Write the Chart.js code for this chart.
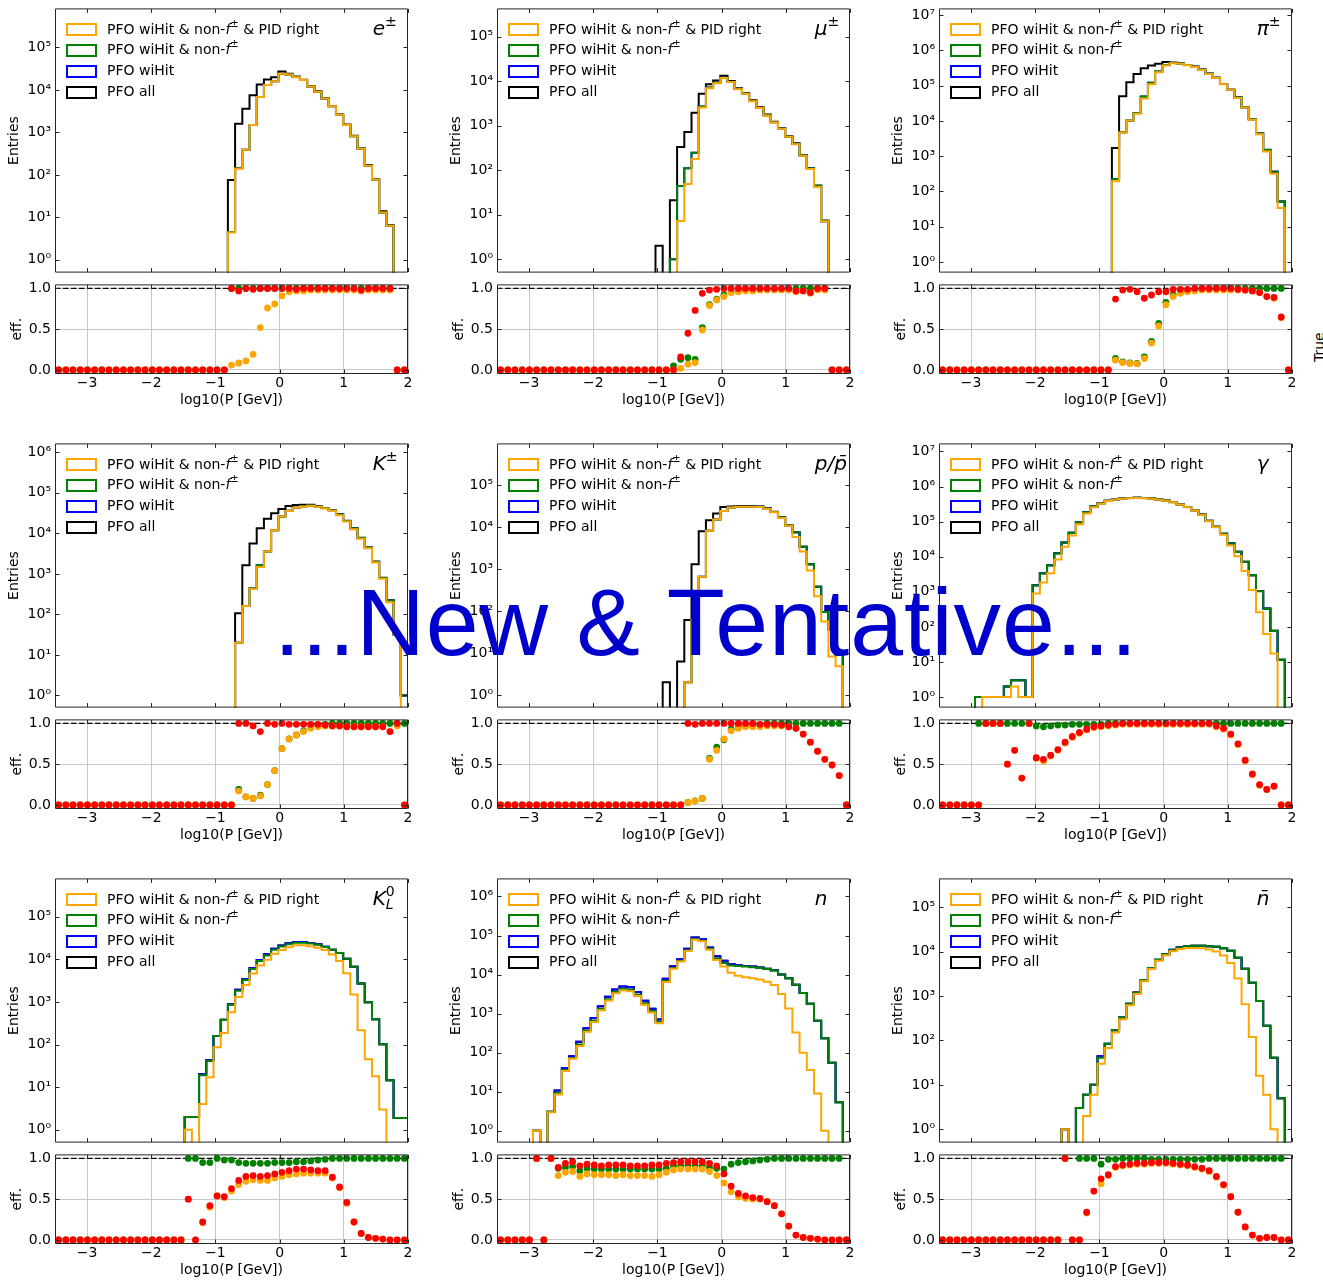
<!DOCTYPE html>
<html>
<head>
<meta charset="utf-8">
<title>PFO efficiency per particle type</title>
<script src="https://cdn.jsdelivr.net/npm/chart.js@4.4.1/dist/chart.umd.min.js"></script>
<style>
  html, body { margin: 0; padding: 0; background: #fff; }
  #page { position: relative; width: 1323px; height: 1282px; overflow: hidden; background: #fff; }
  #page canvas { position: absolute; z-index: 1; }
  #stamp { position: absolute; left: 274px; top: 575px; z-index: 5; white-space: nowrap; letter-spacing: 1px;
           font: 95px/95px "Liberation Sans", Arial, sans-serif; color: #0000cc; }
  #edgeLabel { position: absolute; left: 1311px; top: 362px; z-index: 2; white-space: nowrap;
               font: 14px "DejaVu Sans"; color: #000; transform: rotate(-90deg); transform-origin: left top; }
</style>
</head>
<body>
<div id="page">
  <div id="stamp">...New &amp; Tentative...</div>
  <div id="edgeLabel">True</div>
</div>
<script>
// binning of log10(P [GeV])
const BIN_LO = -3.5;
const BIN_HI = 2.0;
const N_BINS = 49;
const X_TICKS = [-3, -2, -1, 0, 1, 2];
const EFF_TICKS = [0, 0.5, 1];

// ---- e± ----
const eAll = [0,0,0,0,0,0,0,0,0,0, 0,0,0,0,0,0,0,0,0,0, 0,0,0,0,76,1600,3600,7500,13500,17700, 19800,27000,24000,20500,17400,12300,9300,6400,4200,2650, 1530,830,420,170,80,14,6.5,0,0];
const eHit = [0,0,0,0,0,0,0,0,0,0, 0,0,0,0,0,0,0,0,0,0, 0,0,0,0,4.5,145,390,1500,6800,13000, 16000,24000,23000,20300,17000,12000,9100,6300,4100,2600, 1500,810,420,165,78,13,6.3,0,0];
const eNonF = [0,0,0,0,0,0,0,0,0,0, 0,0,0,0,0,0,0,0,0,0, 0,0,0,0,4.5,145,390,1500,6800,13000, 16000,24000,23000,20300,17000,12000,9100,6300,4100,2600, 1500,810,420,165,78,13,6.3,0,0];
const ePid = [0,0,0,0,0,0,0,0,0,0, 0,0,0,0,0,0,0,0,0,0, 0,0,0,0,4.4,140,390,1490,6800,13000, 16000,24000,23000,20000,17000,12000,9100,6300,4100,2600, 1500,810,410,165,78,13,6.3,0,0];
const eEffRed = [0,0,0,0,0,0,0,0,0,0, 0,0,0,0,0,0,0,0,0,0, 0,0,0,0,1,0.97,1,0.99,1,1, 1,1,1,0.99,1,1,1,1,1,1, 1,1,0.98,1,1,1,1,0,0];
const eEffGreen = [0,0,0,0,0,0,0,0,0,0, 0,0,0,0,0,0,0,0,0,0, 0,0,0,0,1,1,1,1,1,1, 1,1,1,1,1,1,1,1,1,1, 1,1,1,1,1,1,1,0,0];
const eEffOrange = [0,0,0,0,0,0,0,0,0,0, 0,0,0,0,0,0,0,0,0,0, 0,0,0,0,0.06,0.085,0.11,0.19,0.52,0.76, 0.81,0.91,0.96,0.97,0.97,0.98,0.98,0.98,0.98,0.98, 0.98,0.98,0.97,0.98,0.98,0.98,0.98,0,0];

// ---- mu± ----
const muAll = [0,0,0,0,0,0,0,0,0,0, 0,0,0,0,0,0,0,0,0,0, 0,0,2,0,21,330,720,1940,5200,8500, 10300,13200,10000,6900,5400,3700,2580,1770,1230,880, 580,400,218,112,45,7.4,0,0,0];
const muHit = [0,0,0,0,0,0,0,0,0,0, 0,0,0,0,0,0,0,0,0,0, 0,0,0,0,1,44,110,245,2700,7200, 9200,11900,9600,6650,5250,3580,2500,1710,1190,860, 565,390,214,111,44,7.1,0,0,0];
const muNonF = [0,0,0,0,0,0,0,0,0,0, 0,0,0,0,0,0,0,0,0,0, 0,0,0,0,1,44,110,245,2700,7200, 9200,11900,9600,6650,5250,3580,2500,1710,1190,860, 565,390,214,111,44,7.1,0,0,0];
const muPid = [0,0,0,0,0,0,0,0,0,0, 0,0,0,0,0,0,0,0,0,0, 0,0,0,0,0,7.2,49,178,2550,6900, 8900,11800,9500,6600,5200,3550,2480,1700,1180,850, 560,380,210,106,42,7.1,0,0,0];
const muEffRed = [0,0,0,0,0,0,0,0,0,0, 0,0,0,0,0,0,0,0,0,0, 0,0,0,0,0,0.16,0.45,0.73,0.94,0.98, 0.99,1,1,1,1,1,1,1,1,1, 1,0.97,0.97,0.95,1,1,0,0,0];
const muEffGreen = [0,0,0,0,0,0,0,0,0,0, 0,0,0,0,0,0,0,0,0,0, 0,0,0,0,0.05,0.13,0.15,0.13,0.52,0.8, 0.87,0.92,0.96,0.97,0.98,0.99,0.99,0.99,0.99,0.99, 0.99,1,1,1,1,1,0,0,0];
const muEffOrange = [0,0,0,0,0,0,0,0,0,0, 0,0,0,0,0,0,0,0,0,0, 0,0,0,0,0,0.02,0.07,0.09,0.49,0.79, 0.86,0.9,0.95,0.96,0.97,0.97,0.98,0.98,0.98,0.98, 0.98,0.96,0.97,0.94,0.98,0.98,0,0,0];

// ---- pi± ----
const piAll = [0,0,0,0,0,0,0,0,0,0, 0,0,0,0,0,0,0,0,0,0, 0,0,0,0,1700,50000,125000,215000,310000,370000, 420000,470000,455000,430000,388000,347000,285000,220000,168000,112000, 77000,46000,24500,11200,4400,1520,360,52,0];
const piHit = [0,0,0,0,0,0,0,0,0,0, 0,0,0,0,0,0,0,0,0,0, 0,0,0,0,225,4800,10300,16700,49000,120000, 250000,385000,440000,425000,385000,345000,283000,218000,167000,111000, 77000,45800,24400,11100,4400,1500,360,52,0];
const piNonF = [0,0,0,0,0,0,0,0,0,0, 0,0,0,0,0,0,0,0,0,0, 0,0,0,0,225,4800,10300,16700,49000,120000, 250000,385000,440000,425000,385000,345000,283000,218000,167000,111000, 77000,45800,24400,11100,4400,1500,360,52,0];
const piPid = [0,0,0,0,0,0,0,0,0,0, 0,0,0,0,0,0,0,0,0,0, 0,0,0,0,195,4700,10200,16000,43000,110000, 240000,370000,435000,420000,380000,340000,280000,215000,165000,110000, 76000,45000,24000,10800,4200,1350,320,34,0];
const piEffRed = [0,0,0,0,0,0,0,0,0,0, 0,0,0,0,0,0,0,0,0,0, 0,0,0,0,0.87,0.98,0.99,0.96,0.88,0.92, 0.96,0.96,0.99,0.99,0.99,1,1,1,1,1, 1,0.99,0.98,0.97,0.95,0.9,0.89,0.65,0];
const piEffGreen = [0,0,0,0,0,0,0,0,0,0, 0,0,0,0,0,0,0,0,0,0, 0,0,0,0,0.14,0.1,0.085,0.08,0.16,0.35, 0.57,0.83,0.92,0.95,0.97,0.98,0.99,0.99,1,1, 1,1,1,1,1,1,1,1,0];
const piEffOrange = [0,0,0,0,0,0,0,0,0,0, 0,0,0,0,0,0,0,0,0,0, 0,0,0,0,0.12,0.09,0.08,0.075,0.14,0.33, 0.54,0.8,0.9,0.94,0.96,0.97,0.98,0.98,0.98,0.98, 0.98,0.98,0.98,0.97,0.95,0.9,0.88,0.64,0];

// ---- K± ----
const kAll = [0,0,0,0,0,0,0,0,0,0, 0,0,0,0,0,0,0,0,0,0, 0,0,0,0,0,107,1630,5600,13400,23000, 31500,40000,47000,50000,51000,51000,47000,42500,37500,29500, 20500,13400,7800,4500,2000,800,225,32,1];
const kHit = [0,0,0,0,0,0,0,0,0,0, 0,0,0,0,0,0,0,0,0,0, 0,0,0,0,0,20,160,440,1630,3550, 12000,26000,36000,43000,46500,48500,46000,42000,37000,29000, 20200,13200,7700,4450,1980,790,222,32,1];
const kNonF = [0,0,0,0,0,0,0,0,0,0, 0,0,0,0,0,0,0,0,0,0, 0,0,0,0,0,20,160,440,1630,3550, 12000,26000,36000,43000,46500,48500,46000,42000,37000,29000, 20200,13200,7700,4450,1980,790,222,32,1];
const kPid = [0,0,0,0,0,0,0,0,0,0, 0,0,0,0,0,0,0,0,0,0, 0,0,0,0,0,20,160,427,1470,3550, 11900,26000,35600,42600,46000,48000,45500,41200,35900,28000, 19500,12700,7400,4300,1900,760,200,32,0];
const kEffRed = [0,0,0,0,0,0,0,0,0,0, 0,0,0,0,0,0,0,0,0,0, 0,0,0,0,0,1,1,0.97,0.9,1, 0.99,1,0.99,0.99,0.99,0.99,0.99,0.98,0.97,0.97, 0.96,0.96,0.96,0.96,0.96,0.96,0.9,1,0];
const kEffGreen = [0,0,0,0,0,0,0,0,0,0, 0,0,0,0,0,0,0,0,0,0, 0,0,0,0,0,0.19,0.1,0.08,0.12,0.25, 0.42,0.69,0.81,0.86,0.91,0.95,0.98,0.99,1,1, 1,1,1,1,1,1,1,1,1];
const kEffOrange = [0,0,0,0,0,0,0,0,0,0, 0,0,0,0,0,0,0,0,0,0, 0,0,0,0,0,0.17,0.1,0.08,0.11,0.25, 0.42,0.69,0.81,0.86,0.9,0.94,0.96,0.97,0.97,0.97, 0.96,0.96,0.96,0.96,0.96,0.96,0.9,0.97,0];

// ---- p / pbar ----
const pAll = [0,0,0,0,0,0,0,0,0,0, 0,0,0,0,0,0,0,0,0,0, 0,0,0,2,0,6.3,61,1300,7900,14400, 21000,30000,31000,31500,31500,31500,31000,28000,23000,17000, 11000,7500,3400,1300,380,95,36,8.9,0];
const pHit = [0,0,0,0,0,0,0,0,0,0, 0,0,0,0,0,0,0,0,0,0, 0,0,0,0,0,0,2,63,650,8200, 15000,24000,29000,30500,30500,30500,30200,27200,22700,16900, 11000,7500,3400,1300,380,95,36,8.9,0];
const pNonF = [0,0,0,0,0,0,0,0,0,0, 0,0,0,0,0,0,0,0,0,0, 0,0,0,0,0,0,2,63,650,8200, 15000,24000,29000,30500,30500,30500,30200,27200,22700,16900, 11000,7500,3400,1300,380,95,36,8.9,0];
const pPid = [0,0,0,0,0,0,0,0,0,0, 0,0,0,0,0,0,0,0,0,0, 0,0,0,0,0,0,2,63,650,8200, 15000,24000,29000,30500,30500,30500,30000,27000,22500,16500, 10700,5800,2600,920,225,56,8.2,4.8,0];
const pEffRed = [0,0,0,0,0,0,0,0,0,0, 0,0,0,0,0,0,0,0,0,0, 0,0,0,0,0,0,1,0.99,1,1, 1,1,1,1,1,1,0.99,0.99,0.99,0.98, 0.96,0.94,0.87,0.77,0.66,0.56,0.49,0.36,0];
const pEffGreen = [0,0,0,0,0,0,0,0,0,0, 0,0,0,0,0,0,0,0,0,0, 0,0,0,0,0,0,0.03,0.05,0.08,0.57, 0.71,0.8,0.93,0.96,0.97,0.97,0.98,1,1,1, 1,1,1,1,1,1,1,1,0];
const pEffOrange = [0,0,0,0,0,0,0,0,0,0, 0,0,0,0,0,0,0,0,0,0, 0,0,0,0,0,0,0.03,0.05,0.08,0.56, 0.67,0.81,0.91,0.94,0.96,0.96,0.96,0.97,0.97,0.97, 0.96,0.94,0.87,0.77,0.66,0.56,0.49,0.36,0];

// ---- gamma ----
const gAll = [0,0,0,0,0,1,1,1,1,2, 3,3,1,1530,3400,5750,12500,25400,48500,95000, 187000,272000,337000,397000,432000,457000,472000,480000,474000,457000, 432000,402000,362000,312000,262000,212000,162000,106000,71500,45300, 24200,13800,7150,2970,1050,333,77,11.6,0];
const gHit = [0,0,0,0,0,1,1,1,1,2, 3,3,1,1530,3400,5750,12500,25400,48500,95000, 187000,272000,337000,397000,432000,457000,472000,480000,474000,457000, 432000,402000,362000,312000,262000,212000,162000,106000,71500,45300, 24200,13800,7150,2970,1050,333,77,11.6,0];
const gNonF = [0,0,0,0,0,1,1,1,1,2, 3,3,1,1500,3300,5600,12300,25000,48000,94000, 185000,270000,335000,395000,430000,455000,470000,478000,472000,455000, 430000,400000,360000,310000,260000,210000,160000,105000,71000,45000, 24000,13700,7100,2950,1040,330,76,11.5,0];
const gPid = [0,0,0,0,0,0,1,1,1,1, 2,1,1,890,1850,3400,8400,19200,40300,83700, 172000,259000,325000,387000,426000,450000,466000,474000,468000,451000, 426000,396000,356000,306000,257000,207000,157000,102000,68900,42300, 20900,10300,3900,1120,260,63,17.5,0,0];
const gEffRed = [0,0,0,0,0,0,1,1,1,0.5, 0.67,0.33,1,0.58,0.56,0.61,0.68,0.77,0.84,0.89, 0.93,0.96,0.97,0.98,0.99,1,1,1,1,1, 1,1,1,1,1,1,1,1,0.97,0.94, 0.87,0.75,0.55,0.38,0.25,0.19,0.23,0,0];
const gEffGreen = [0,0,0,0,0,1,1,1,1,1, 1,1,1,0.97,0.96,0.97,0.98,0.98,0.99,0.99, 0.99,0.99,0.99,1,1,1,1,1,1,1, 1,1,1,1,1,1,1,1,1,1, 1,1,1,1,1,1,1,1,0];
const gEffOrange = [0,0,0,0,0,0,1,1,1,0.5, 0.67,0.33,1,0.57,0.54,0.6,0.67,0.76,0.83,0.88, 0.92,0.95,0.96,0.97,0.98,0.99,0.99,0.99,0.99,0.99, 0.99,0.99,0.99,0.99,0.99,0.99,0.99,0.99,0.96,0.93, 0.86,0.74,0.54,0.37,0.24,0.19,0.23,0,0];

// ---- K0_L ----
const klAll = [0,0,0,0,0,0,0,0,0,0, 0,0,0,0,0,0,0,0,2,2, 20,43,158,383,877,1930,3460,6280,9680,13100, 17600,21000,23700,25500,25500,24200,22500,19700,16700,14000, 10300,6700,2700,980,390,102,14.5,1.9,1.9];
const klHit = [0,0,0,0,0,0,0,0,0,0, 0,0,0,0,0,0,0,0,2,2, 20,43,158,383,877,1930,3460,6280,9680,13100, 17600,21000,23700,25500,25500,24200,22500,19700,16700,14000, 10300,6700,2700,980,390,102,14.5,1.9,1.9];
const klNonF = [0,0,0,0,0,0,0,0,0,0, 0,0,0,0,0,0,0,0,2,2, 19,41,158,375,860,1830,3250,5900,9100,12300, 16700,20000,22500,24500,24500,23500,22000,19500,16700,14000, 10300,6700,2700,980,390,102,14.5,1.9,1.9];
const klPid = [0,0,0,0,0,0,0,0,0,0, 0,0,0,0,0,0,0,0,1,0, 4,17,86,187,575,1300,2500,4660,7100,9700, 13500,16600,19100,21300,21300,20200,18700,16600,12900,9100, 4700,1500,215,45,18,3,0,0,0];
const klEffRed = [0,0,0,0,0,0,0,0,0,0, 0,0,0,0,0,0,0,0,0.5,0, 0.22,0.42,0.54,0.53,0.63,0.73,0.78,0.79,0.78,0.79, 0.81,0.83,0.85,0.87,0.87,0.86,0.85,0.85,0.77,0.65, 0.46,0.22,0.08,0.03,0.02,0.01,0,0,0];
const klEffGreen = [0,0,0,0,0,0,0,0,0,0, 0,0,0,0,0,0,0,0,1,1, 0.95,0.95,1,0.98,0.98,0.95,0.94,0.94,0.94,0.94, 0.95,0.95,0.95,0.96,0.96,0.97,0.98,0.99,1,1, 1,1,1,1,1,1,1,1,1];
const klEffOrange = [0,0,0,0,0,0,0,0,0,0, 0,0,0,0,0,0,0,0,0.5,0, 0.21,0.4,0.54,0.52,0.6,0.68,0.72,0.74,0.73,0.73, 0.76,0.78,0.8,0.81,0.82,0.82,0.82,0.82,0.76,0.64, 0.45,0.22,0.08,0.03,0.02,0.01,0,0,0];

// ---- n ----
const nAll = [0,0,0,0,0,1,0,3.1,10.8,40, 81,192,420,770,1540,2700,4140,4940,4710,3560, 2130,1340,710,7800,16300,24700,46000,89000,80000,49500, 29500,22600,18300,17400,16500,16000,15200,14100,12900,10000, 8000,5500,3400,1800,660,233,55,5.4,0];
const nHit = [0,0,0,0,0,1,0,3.1,10.8,40, 81,192,420,770,1540,2700,4140,4940,4710,3560, 2130,1340,710,7800,16300,24700,46000,89000,80000,49500, 29500,22600,18300,17400,16500,16000,15200,14100,12900,10000, 8000,5500,3400,1800,660,233,55,5.4,0];
const nNonF = [0,0,0,0,0,1,0,3.1,9.5,36, 73,163,370,670,1340,2350,3600,4300,4100,3100, 1850,1170,620,6900,14800,22500,42000,81000,74000,46000, 26000,19700,17000,16500,16000,15500,15000,14000,12800,10000, 8000,5500,3400,1800,660,233,55,5.4,0];
const nPid = [0,0,0,0,0,1,0,3,8.5,34, 70,148,345,615,1220,2160,3320,3950,3750,2820, 1680,1070,570,6500,14100,21600,40300,78000,71000,43200, 23700,16000,11200,9400,8600,8000,7500,6600,5400,3200, 1360,330,100,36,9,1,0,0,0];
const nEffRed = [0,0,0,0,0,1,0,1,0.89,0.94, 0.96,0.91,0.93,0.92,0.91,0.92,0.92,0.92,0.91,0.91, 0.91,0.92,0.92,0.94,0.95,0.96,0.96,0.96,0.96,0.94, 0.91,0.81,0.66,0.57,0.54,0.52,0.51,0.47,0.42,0.32, 0.17,0.06,0.03,0.02,0.01,0,0,0,0];
const nEffGreen = [0,0,0,0,0,1,0,1,0.88,0.89, 0.9,0.85,0.88,0.87,0.87,0.87,0.87,0.87,0.87,0.87, 0.87,0.87,0.87,0.88,0.91,0.91,0.91,0.91,0.91,0.89, 0.88,0.87,0.93,0.95,0.96,0.97,0.98,0.99,1,1, 1,1,1,1,1,1,1,1,0];
const nEffOrange = [0,0,0,0,0,1,0,1,0.79,0.83, 0.84,0.78,0.81,0.8,0.8,0.8,0.79,0.8,0.79,0.79, 0.79,0.78,0.8,0.83,0.86,0.87,0.87,0.87,0.87,0.84, 0.79,0.7,0.59,0.53,0.51,0.5,0.5,0.47,0.42,0.32, 0.17,0.06,0.03,0.02,0.01,0,0,0,0];

// ---- nbar ----
const nbAll = [0,0,0,0,0,0,0,0,0,0, 0,0,0,0,0,0,0,1,0,3, 6,10,44,85,170,330,670,1200,2300,4300, 6600,8800,11100,12600,13400,13600,13600,13300,13000,12000, 10500,7300,4150,2000,780,215,41,5,0];
const nbHit = [0,0,0,0,0,0,0,0,0,0, 0,0,0,0,0,0,0,1,0,3, 6,10,44,85,170,330,670,1200,2300,4300, 6600,8800,11100,12600,13400,13600,13600,13300,13000,12000, 10500,7300,4150,2000,780,215,41,5,0];
const nbNonF = [0,0,0,0,0,0,0,0,0,0, 0,0,0,0,0,0,0,1,0,3, 6,10,41,85,170,330,670,1200,2300,4300, 6600,8800,11000,12500,13300,13600,13600,13300,13000,12000, 10500,7300,4150,2000,780,215,41,5,0];
const nbPid = [0,0,0,0,0,0,0,0,0,0, 0,0,0,0,0,0,0,1,0,0, 2,6,30,68,152,300,620,1120,2160,4080, 6270,8360,10300,11600,12200,12200,12000,11300,10100,8200, 5600,2500,660,120,16,6,1,0,0];
const nbEffRed = [0,0,0,0,0,0,0,0,0,0, 0,0,0,0,0,0,0,1,0,0, 0.34,0.6,0.75,0.8,0.9,0.92,0.93,0.94,0.94,0.95, 0.95,0.95,0.94,0.93,0.92,0.9,0.88,0.85,0.78,0.68, 0.53,0.34,0.16,0.06,0.02,0.03,0.03,0,0];
const nbEffGreen = [0,0,0,0,0,0,0,0,0,0, 0,0,0,0,0,0,0,1,0,1, 1,1,0.93,0.99,0.99,1,1,1,1,0.99, 0.99,0.99,0.99,0.99,0.99,0.99,0.99,1,1,1, 1,1,1,1,1,1,1,1,0];
const nbEffOrange = [0,0,0,0,0,0,0,0,0,0, 0,0,0,0,0,0,0,1,0,0, 0.33,0.6,0.69,0.79,0.89,0.91,0.92,0.93,0.93,0.94, 0.94,0.94,0.93,0.92,0.91,0.89,0.87,0.84,0.77,0.67, 0.53,0.34,0.16,0.06,0.02,0.03,0.03,0,0];

// panel titles as rich-text pieces: [text, style]
const PANELS = [
  {tag: [['e', 'it'], ['±', 'sup']], ymax: 8.3e5, all: eAll, hit: eHit, nonF: eNonF, pid: ePid, effRed: eEffRed, effGreen: eEffGreen, effOrange: eEffOrange},
  {tag: [['μ', 'it'], ['±', 'sup']], ymax: 4.3e5, all: muAll, hit: muHit, nonF: muNonF, pid: muPid, effRed: muEffRed, effGreen: muEffGreen, effOrange: muEffOrange},
  {tag: [['π', 'it'], ['±', 'sup']], ymax: 1.55e7, all: piAll, hit: piHit, nonF: piNonF, pid: piPid, effRed: piEffRed, effGreen: piEffGreen, effOrange: piEffOrange},
  {tag: [['K', 'it'], ['±', 'sup']], ymax: 1.66e6, all: kAll, hit: kHit, nonF: kNonF, pid: kPid, effRed: kEffRed, effGreen: kEffGreen, effOrange: kEffOrange},
  {tag: [['p/p\u0304', 'it']], ymax: 9.8e5, all: pAll, hit: pHit, nonF: pNonF, pid: pPid, effRed: pEffRed, effGreen: pEffGreen, effOrange: pEffOrange},
  {tag: [['γ', 'it']], ymax: 1.7e7, all: gAll, hit: gHit, nonF: gNonF, pid: gPid, effRed: gEffRed, effGreen: gEffGreen, effOrange: gEffOrange},
  {tag: [['K', 'it'], [['0', 'L'], 'both']], ymax: 7.9e5, all: klAll, hit: klHit, nonF: klNonF, pid: klPid, effRed: klEffRed, effGreen: klEffGreen, effOrange: klEffOrange},
  {tag: [['n', 'it']], ymax: 2.9e6, all: nAll, hit: nHit, nonF: nNonF, pid: nPid, effRed: nEffRed, effGreen: nEffGreen, effOrange: nEffOrange},
  {tag: [['n\u0304', 'it']], ymax: 4.5e5, all: nbAll, hit: nbHit, nonF: nbNonF, pid: nbPid, effRed: nbEffRed, effGreen: nbEffGreen, effOrange: nbEffOrange},
];

const KEY_PID = [['PFO wiHit & non-', ''], ['f', 'it'], ['±', 'sup'], [' & PID right', '']];
const KEY_NONF = [['PFO wiHit & non-', ''], ['f', 'it'], ['±', 'sup']];
const KEY_HIT = [['PFO wiHit', '']];
const KEY_ALL = [['PFO all', '']];

const C_PID = '#ffa500';
const C_NONF = '#008000';
const C_HIT = '#0000ff';
const C_ALL = '#000000';
const C_RATIO = '#ff0000';
const FONT = 'DejaVu Sans';
const LOG_FLOOR = 1e-2;   // empty bins sit below the axis and get clipped

const COL_LEFT = [55, 497, 939];
const ROW_TOP = [6, 441, 876];
const PLOT_W = 353, HIST_H = 275, EFF_H = 92, AXIS_W = 55;

const BIN_W = (BIN_HI - BIN_LO) / N_BINS;
const edges = Array.from({length: N_BINS + 1}, (_, i) => BIN_LO + i * BIN_W);
const centres = edges.slice(0, N_BINS).map(e => e + BIN_W / 2);

Chart.defaults.font.family = FONT;

function fontSpec(size, italic) {
    return `${italic ? 'italic ' : ''}${size}px "${FONT}"`;
}

function drawRich(ctx, parts, x, y, size) {
    const small = Math.round(size * 0.7);
    for (const [text, style] of parts) {
        if (style === 'both') {
            ctx.font = fontSpec(small, false);
            const w1 = ctx.measureText(text[0]).width;
            ctx.fillText(text[0], x, y - size * 0.42);
            ctx.font = fontSpec(small, true);
            const w2 = ctx.measureText(text[1]).width;
            ctx.fillText(text[1], x, y + size * 0.22);
            x += Math.max(w1, w2);
            continue;
        }
        const sup = style === 'sup';
        ctx.font = fontSpec(sup ? small : size, style === 'it');
        ctx.fillText(text, x, sup ? y - size * 0.42 : y);
        x += ctx.measureText(text).width;
    }
}

const SUPERSCRIPT = '⁰¹²³⁴⁵⁶⁷⁸⁹';
function decadeLabel(v) {
    const e = Math.round(Math.log10(v));
    return '10' + String(e).split('').map(d => SUPERSCRIPT[+d]).join('');
}

function decades(ymax) {
    const out = [];
    for (let v = 1; v <= ymax; v *= 10) {
        out.push(v);
    }
    return out;
}

// one point per left bin edge; 'before' stepping holds each count across its bin
function stepPoints(counts) {
    const pts = counts.map((c, i) => ({x: edges[i], y: c > 0 ? c : LOG_FLOOR}));
    pts.push({x: BIN_HI, y: LOG_FLOOR});
    return pts;
}

// axes box with inward tick marks on all four sides
const framePlugin = {
    id: 'frame',
    afterDatasetsDraw(chart, args, opts) {
        const {ctx, chartArea: a, scales} = chart;
        const l = a.left + 0.5, r = a.right - 0.5, t = a.top + 0.5, b = a.bottom - 0.5;
        ctx.save();
        ctx.strokeStyle = '#262626';
        ctx.lineWidth = 1;
        ctx.beginPath();
        ctx.rect(l, t, r - l, b - t);
        for (const v of opts.xTicks) {
            const px = Math.round(scales.x.getPixelForValue(v)) + 0.5;
            ctx.moveTo(px, t); ctx.lineTo(px, t + 4);
            ctx.moveTo(px, b); ctx.lineTo(px, b - 4);
        }
        for (const v of opts.yTicks) {
            const py = Math.round(scales.y.getPixelForValue(v)) + 0.5;
            ctx.moveTo(l, py); ctx.lineTo(l + 4, py);
            ctx.moveTo(r, py); ctx.lineTo(r - 4, py);
        }
        ctx.stroke();
        ctx.restore();
    }
};

// legend in the upper left corner of the histogram
const keyPlugin = {
    id: 'key',
    afterDatasetsDraw(chart) {
        const {ctx, chartArea: a} = chart;
        ctx.save();
        chart.data.datasets.forEach((ds, i) => {
            const cy = a.top + 21.5 + i * 20.8;
            ctx.strokeStyle = ds.borderColor;
            ctx.lineWidth = 2;
            ctx.strokeRect(a.left + 12, Math.round(cy - 5.5), 29, 11);
            ctx.fillStyle = '#000';
            ctx.textBaseline = 'middle';
            drawRich(ctx, ds.keyParts, a.left + 52, cy, 14);
        });
        ctx.restore();
    }
};

// particle name at (0.9, 0.9) in axes coordinates
const tagPlugin = {
    id: 'tag',
    afterDatasetsDraw(chart, args, opts) {
        const {ctx, chartArea: a} = chart;
        ctx.save();
        ctx.fillStyle = '#000';
        ctx.textBaseline = 'alphabetic';
        drawRich(ctx, opts.parts, a.left + 0.9 * a.width, a.top + 0.1 * a.height, 20);
        ctx.restore();
    }
};

const page = document.getElementById('page');

function addCanvas(left, top, w, h) {
    const c = document.createElement('canvas');
    c.width = w;
    c.height = h;
    c.style.left = left + 'px';
    c.style.top = top + 'px';
    c.style.width = w + 'px';
    c.style.height = h + 'px';
    page.appendChild(c);
    return c;
}

const tickFont = {family: FONT, size: 14};

function histChart(canvas, p) {
    const series = [
        {counts: p.pid, color: C_PID, key: KEY_PID},
        {counts: p.nonF, color: C_NONF, key: KEY_NONF},
        {counts: p.hit, color: C_HIT, key: KEY_HIT},
        {counts: p.all, color: C_ALL, key: KEY_ALL}
    ];
    const yTicks = decades(p.ymax);

    return new Chart(canvas, {
        type: 'line',
        data: {
            datasets: series.map(s => ({
                data: stepPoints(s.counts),
                borderColor: s.color,
                backgroundColor: s.color,
                borderWidth: 2,
                stepped: 'before',
                pointRadius: 0,
                fill: false,
                keyParts: s.key
            }))
        },
        options: {
            responsive: false,
            animation: false,
            devicePixelRatio: 1,
            events: [],
            layout: {padding: {top: 10, right: 6, bottom: 4, left: 0}},
            plugins: {
                legend: {display: false},
                tooltip: {enabled: false},
                frame: {xTicks: X_TICKS, yTicks},
                tag: {parts: p.tag}
            },
            scales: {
                x: {type: 'linear', min: BIN_LO, max: BIN_HI, display: false},
                y: {
                    type: 'logarithmic',
                    min: 0.5,
                    max: p.ymax,
                    afterBuildTicks: s => { s.ticks = yTicks.map(v => ({value: v})); },
                    afterFit: s => { s.width = AXIS_W; },
                    ticks: {autoSkip: false, padding: 4, color: '#000', font: tickFont, callback: decadeLabel},
                    grid: {display: false, drawTicks: false},
                    border: {display: false},
                    title: {display: true, text: 'Entries', color: '#000', font: tickFont, padding: {top: 6, bottom: 0}}
                }
            }
        },
        plugins: [framePlugin, keyPlugin, tagPlugin]
    });
}

function effChart(canvas, p) {
    const dots = (vals, color) => ({
        type: 'scatter',
        data: vals.map((v, i) => ({x: centres[i], y: v})),
        backgroundColor: color,
        borderWidth: 0,
        pointRadius: 3.4
    });

    return new Chart(canvas, {
        type: 'scatter',
        data: {
            datasets: [
                dots(p.effRed, C_RATIO),
                dots(p.effOrange, C_PID),
                dots(p.effGreen, C_NONF),
                {
                    type: 'line',
                    data: [{x: BIN_LO, y: 1}, {x: BIN_HI, y: 1}],
                    borderColor: '#000',
                    borderWidth: 1.3,
                    borderDash: [5.5, 2.5],
                    pointRadius: 0
                }
            ]
        },
        options: {
            responsive: false,
            animation: false,
            devicePixelRatio: 1,
            events: [],
            layout: {padding: {top: 10, right: 6, bottom: 0, left: 0}},
            plugins: {
                legend: {display: false},
                tooltip: {enabled: false},
                frame: {xTicks: X_TICKS, yTicks: EFF_TICKS}
            },
            scales: {
                x: {
                    type: 'linear',
                    min: BIN_LO,
                    max: BIN_HI,
                    afterBuildTicks: s => { s.ticks = X_TICKS.map(v => ({value: v})); },
                    afterFit: s => { s.height = 46; },
                    ticks: {autoSkip: false, maxRotation: 0, padding: 1, color: '#000', font: tickFont,
                            callback: v => (v < 0 ? '\u2212' + Math.abs(v) : String(v))},
                    grid: {color: '#c8c8c8', lineWidth: 1, drawTicks: false},
                    border: {display: false},
                    title: {display: true, text: 'log10(P [GeV])', color: '#000', font: tickFont, padding: {top: 0, bottom: 11}}
                },
                y: {
                    type: 'linear',
                    min: -0.05,
                    max: 1.05,
                    afterBuildTicks: s => { s.ticks = EFF_TICKS.map(v => ({value: v})); },
                    afterFit: s => { s.width = AXIS_W; },
                    ticks: {autoSkip: false, padding: 4, color: '#000', font: tickFont, callback: v => v.toFixed(1)},
                    grid: {color: '#c8c8c8', lineWidth: 1, drawTicks: false},
                    border: {display: false},
                    title: {display: true, text: 'eff.', color: '#000', font: tickFont, padding: {top: 9, bottom: 0}}
                }
            }
        },
        plugins: [framePlugin]
    });
}

PANELS.forEach((p, i) => {
    const left = COL_LEFT[i % 3];
    const top = ROW_TOP[Math.floor(i / 3)];
    const w = AXIS_W + PLOT_W + 6;

    histChart(addCanvas(left - AXIS_W, top - 10, w, 10 + HIST_H + 4), p);
    effChart(addCanvas(left - AXIS_W, top + HIST_H + 1 - 10, w, 10 + EFF_H + 46), p);
});
</script>
</body>
</html>
